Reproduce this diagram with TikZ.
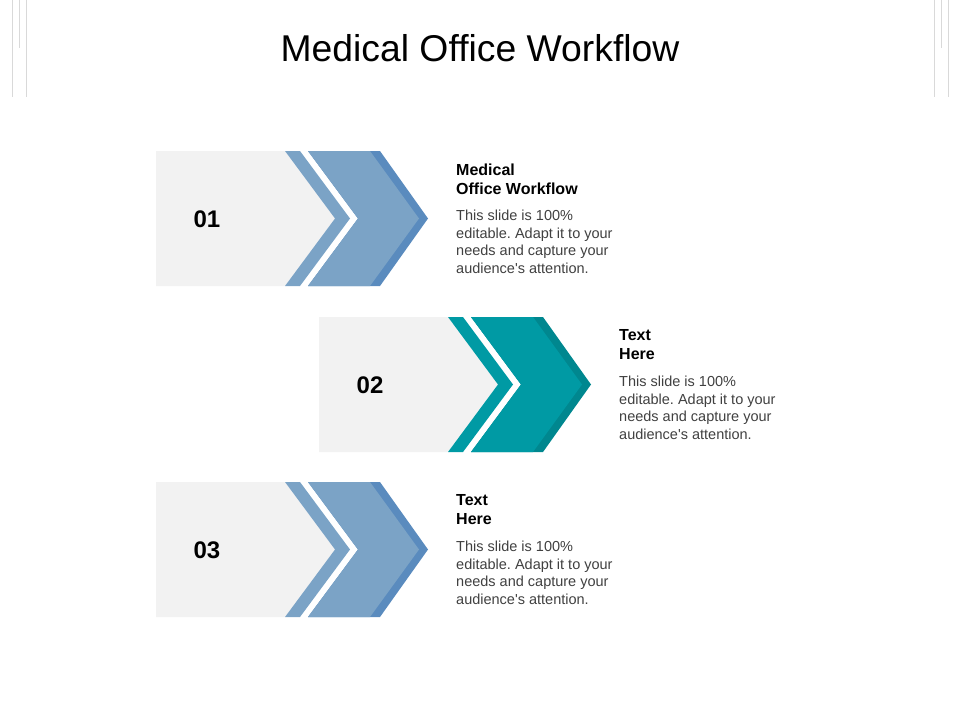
\documentclass[tikz,border=0pt]{standalone}
\usepackage{fontspec}
\setmainfont{Liberation Sans}
\usepackage{xcolor}

\definecolor{steelblue}{HTML}{7BA3C6}
\definecolor{steeldark}{HTML}{5A8BBE}
\definecolor{tealfill}{HTML}{009AA4}
\definecolor{tealdark}{HTML}{00878F}
\definecolor{panelgrey}{HTML}{F2F2F2}
\definecolor{rulegrey}{HTML}{D9D9D9}
\definecolor{bodygrey}{HTML}{404040}

\tikzset{
	panel/.style={fill=panelgrey, draw=none},
	numlabel/.style={font=\fontsize{24}{28}\selectfont\bfseries, inner sep=0pt},
	headlabel/.style={font=\fontsize{16}{19}\selectfont\bfseries, align=left, anchor=north west, inner sep=0pt},
	bodylabel/.style={font=\fontsize{14.5}{17.5}\selectfont, text=bodygrey, align=left, anchor=north west, inner sep=0pt},
	edgeline/.style={draw=rulegrey, line width=1pt}
}

\begin{document}
\frenchspacing
\begin{tikzpicture}[x=1pt,y=-1pt]
	\useasboundingbox (0,0) rectangle (960,720);
	% corner rules
	\draw [edgeline] (12,0) -- (12,97);
	\draw [edgeline] (19,0) -- (19,48);
	\draw [edgeline] (26,0) -- (26,97);
	\draw [edgeline] (934,0) -- (934,97);
	\draw [edgeline] (941,0) -- (941,48);
	\draw [edgeline] (948,0) -- (948,97);
	% title
	\node [font=\fontsize{37.3}{42}\selectfont, inner sep=0pt] (title) at (480,48) {Medical Office Workflow};
	% the three steps
	\foreach \ox/\oy/\num/\lite/\dark/\head in {0/0/01/steelblue/steeldark/{Medical\\Office Workflow},163/166/02/tealfill/tealdark/{Text\\Here},0/331/03/steelblue/steeldark/{Text\\Here}}{
		\begin{scope}[shift={(\ox,\oy)}]
			\fill [panelgrey] (156,151) -- (285,151) -- (335,218.5) -- (285,286) -- (156,286) -- cycle;
			\fill [\lite] (285,151) -- (300,151) -- (350,218.5) -- (300,286) -- (285,286) -- (335,218.5) -- cycle;
			\fill [\dark] (308,151) -- (380,151) -- (428,218.5) -- (380,286) -- (308,286) -- (358,218.5) -- cycle;
			\fill [\lite] (308,151) -- (370,151) -- (419,218.5) -- (370,286) -- (308,286) -- (358,218.5) -- cycle;
			\node [numlabel] (num\num) at (207,219) {\num};
			\node [headlabel] (head\num) at (456,163.5) {\head};
			\node [bodylabel] (body\num) at (456,210) {This slide is 100\%\\editable. Adapt it to your\\needs and capture your\\audience\textquotesingle s attention.};
		\end{scope}
	}
\end{tikzpicture}
\end{document}
